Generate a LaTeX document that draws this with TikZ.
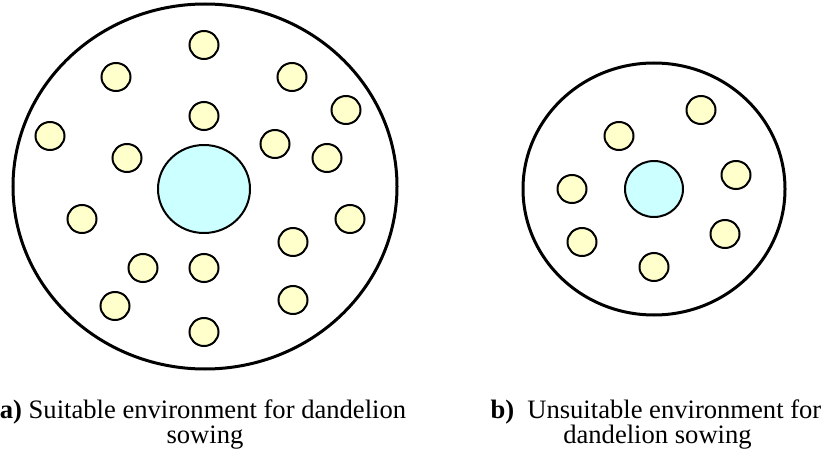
\documentclass[tikz,border=0pt]{standalone}
\usepackage{fontspec}
\setmainfont{Liberation Serif}
\usetikzlibrary{shapes.geometric}
\definecolor{seedfill}{HTML}{FFFFCC}
\definecolor{corefill}{HTML}{CCFFFF}
\tikzset{
  field/.style={ellipse, draw=black, line width=3pt, inner sep=0pt},
  seed/.style={ellipse, draw=black, line width=2pt, fill=seedfill, inner sep=0pt, minimum width=29pt, minimum height=28pt},
  core/.style={ellipse, draw=black, line width=2pt, fill=corefill, inner sep=0pt},
  captext/.style={anchor=base, inner sep=0pt, font=\fontsize{26.6}{25}\selectfont}
}
\begin{document}
\begin{tikzpicture}[x=1pt, y=-1pt]
\useasboundingbox (0,0) rectangle (825,460);
% panel a
\node[field, minimum width=384pt, minimum height=365pt] (fa) at (205,186.5) {};
\node[core, minimum width=92pt, minimum height=88pt] (ca) at (204,189) {};
\node[seed] (a1) at (204,45) {};
\node[seed] (a2) at (116,77) {};
\node[seed] (a3) at (292,77) {};
\node[seed] (a4) at (346,110) {};
\node[seed] (a5) at (204,116) {};
\node[seed] (a6) at (50,136) {};
\node[seed] (a7) at (275,144) {};
\node[seed] (a8) at (127,158) {};
\node[seed] (a9) at (327,158) {};
\node[seed] (a10) at (82,219) {};
\node[seed] (a11) at (350,219) {};
\node[seed] (a12) at (293,242) {};
\node[seed] (a13) at (143,268) {};
\node[seed] (a14) at (204,268) {};
\node[seed] (a15) at (115,306) {};
\node[seed] (a16) at (293,300) {};
\node[seed] (a17) at (204,332) {};
% panel b
\node[field, minimum width=262pt, minimum height=252pt] (fb) at (654,189) {};
\node[core, minimum width=58pt, minimum height=56pt] (cb) at (654,189) {};
\node[seed] (b1) at (701,110) {};
\node[seed] (b2) at (619,136) {};
\node[seed] (b3) at (736,175) {};
\node[seed] (b4) at (572,189) {};
\node[seed] (b5) at (582,242) {};
\node[seed] (b6) at (725,234) {};
\node[seed] (b7) at (654,267) {};
% captions
\node[captext] (capa1) at (203,418) {\textbf{a)} Suitable environment for dandelion};
\node[captext] (capa2) at (205,443) {sowing};
\node[captext] (capb1) at (656,418) {\textbf{b)}\hspace{13pt}Unsuitable environment for};
\node[captext] (capb2) at (657.5,443) {dandelion sowing};
\end{tikzpicture}
\end{document}
